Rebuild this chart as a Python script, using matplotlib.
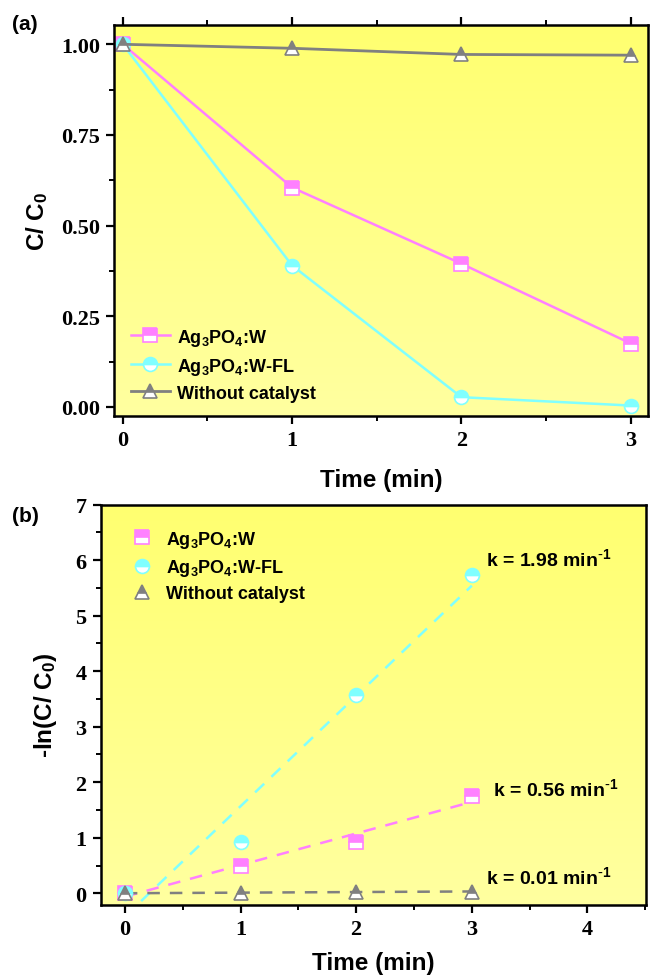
import matplotlib as mpl
import matplotlib.pyplot as plt
import numpy as np

# ---- data ----
time = [0, 1, 2, 3]
w = [1.0, 0.605, 0.395, 0.175]
w_fl = [1.0, 0.39, 0.027, 0.004]
no_cat = [1.0, 0.989, 0.972, 0.970]

ln_w = [0.0, 0.49, 0.93, 1.75]
ln_wfl = [0.0, 0.93, 3.57, 5.74]
ln_no = [0.0, 0.011, 0.028, 0.030]

labels = ['Ag$_3$PO$_4$:W', 'Ag$_3$PO$_4$:W-FL', 'Without catalyst']
k_text = ['k = 0.56 min$^{\\text{-}1}$', 'k = 1.98 min$^{\\text{-}1}$', 'k = 0.01 min$^{\\text{-}1}$']

pink = '#ff80ff'
cyan = '#80ffff'
gray = '#808080'

mpl.rcParams['mathtext.default'] = 'regular'
tickfont = {'family': 'Liberation Serif', 'weight': 'bold', 'size': 16}
sansb = {'family': 'Liberation Sans', 'weight': 'bold'}

fig = plt.figure(figsize=(6.53, 9.79), dpi=100)
ax1 = fig.add_axes([0.175, 0.574, 0.818, 0.399])
ax2 = fig.add_axes([0.154, 0.0746, 0.836, 0.409])

grad = np.linspace(0, 1, 256).reshape(-1, 1)
ycm = mpl.colors.LinearSegmentedColormap.from_list('y', ['#ffff70', '#ffffa0'])
for ax in (ax1, ax2):
    ax.imshow(grad, extent=[0, 1, 0, 1], transform=ax.transAxes, aspect='auto',
              cmap=ycm, zorder=0)
    for s in ax.spines.values():
        s.set_linewidth(1.8)
    ax.tick_params(which='major', direction='out', length=6, width=1.6, pad=4)
    ax.tick_params(which='minor', direction='out', length=3.5, width=1.4)

mk = dict(markersize=10, fillstyle='top', markerfacecoloralt='white', markeredgewidth=1.2)

# ---- panel (a) ----
ax1.plot(time, w, '-s', color=pink, lw=1.8, markeredgecolor=pink, label=labels[0], **mk)
ax1.plot(time, w_fl, '-o', color=cyan, lw=1.8, markeredgecolor=cyan, label=labels[1], **mk)
ax1.plot(time, no_cat, '-^', color=gray, lw=2.0, markeredgecolor=gray, label=labels[2], **mk)
ax1.set_xlim(-0.05, 3.104)
ax1.set_ylim(-0.025, 1.052)
ax1.set_xticks([0, 1, 2, 3])
ax1.set_xticks([0.5, 1.5, 2.5], minor=True)
ax1.set_yticks([0, 0.25, 0.5, 0.75, 1.0])
ax1.set_yticks([0.125, 0.375, 0.625, 0.875], minor=True)
ax1.set_yticklabels(['0.00', '0.25', '0.50', '0.75', '1.00'], fontdict=tickfont)
ax1.set_xticklabels(['0', '1', '2', '3'], fontdict=tickfont)
ax1.tick_params(which='both', top=True, labeltop=False)
ax1.set_xlabel('Time (min)', fontdict=sansb, fontsize=17.5, labelpad=13)
ax1.set_ylabel('C/ C$_0$', fontdict=sansb, fontsize=17.5, labelpad=8)
ax1.legend(loc='lower left', bbox_to_anchor=(0.0, -0.005), frameon=False,
           prop={'family': 'Liberation Sans', 'weight': 'bold', 'size': 13},
           handlelength=2.2, handletextpad=0.4, labelspacing=0.45)
fig.text(0.018, 0.975, '(a)', fontdict=sansb, fontsize=15, va='center')

# ---- panel (b) ----
ax2.plot(time, ln_w, 's', color=pink, markeredgecolor=pink, label=labels[0], **mk)
ax2.plot(time, ln_wfl, 'o', color=cyan, markeredgecolor=cyan, label=labels[1], **mk)
ax2.plot(time, ln_no, '^', color=gray, markeredgecolor=gray, label=labels[2], **mk)
xf = np.array([0, 3])
for yv, c in ((ln_w, pink), (ln_wfl, cyan), (ln_no, gray)):
    p = np.polyfit(time, yv, 1)
    ax2.plot(xf, np.polyval(p, xf), '--', color=c, lw=1.8, dashes=(5, 4), zorder=1.5)
ax2.set_xlim(-0.21, 4.51)
ax2.set_ylim(-0.21, 7.0)
ax2.set_xticks([0, 1, 2, 3, 4])
ax2.set_xticks([0.5, 1.5, 2.5, 3.5, 4.5], minor=True)
ax2.set_yticks(range(0, 8))
ax2.set_yticks(np.arange(0.5, 7, 1), minor=True)
ax2.set_xticklabels(['0', '1', '2', '3', '4'], fontdict=tickfont)
ax2.set_yticklabels([str(i) for i in range(8)], fontdict=tickfont)
ax2.set_xlabel('Time (min)', fontdict=sansb, fontsize=17.5, labelpad=9)
ax2.set_ylabel('-ln(C/ C$_0$)', fontdict=sansb, fontsize=17.5, labelpad=12)
ax2.legend(loc='upper left', bbox_to_anchor=(0.02, 0.98), frameon=False,
           prop={'family': 'Liberation Sans', 'weight': 'bold', 'size': 13},
           handlelength=1.6, handletextpad=0.5, labelspacing=0.4)
kfont = dict(fontdict=sansb, fontsize=14, va='center')
ax2.text(3.18, ln_w[-1] + 0.15, k_text[0], **kfont)
ax2.text(3.12, ln_wfl[-1] + 0.3, k_text[1], **kfont)
ax2.text(3.12, 0.3, k_text[2], **kfont)
fig.text(0.018, 0.472, '(b)', fontdict=sansb, fontsize=15, va='center')

fig.savefig('out.png', dpi=100)
